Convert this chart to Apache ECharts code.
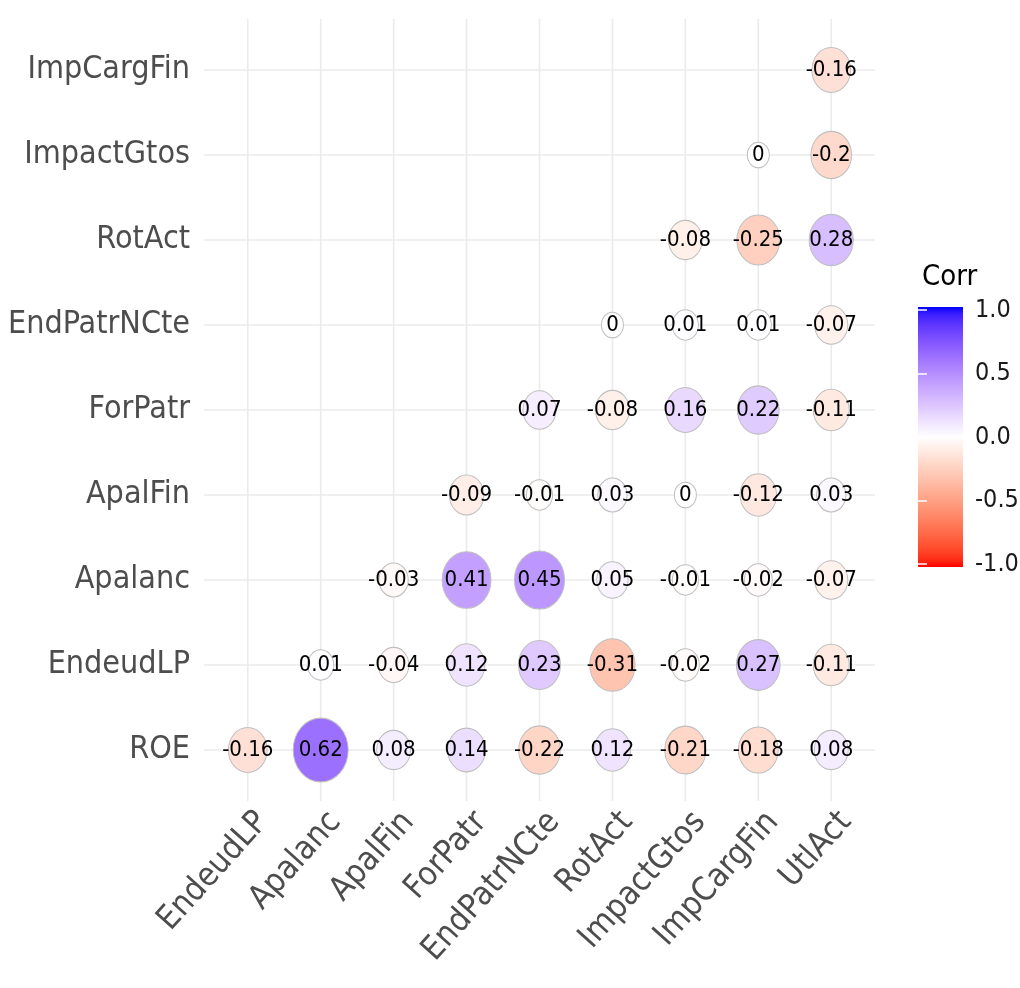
<!DOCTYPE html>
<html>
<head>
<meta charset="utf-8">
<title>Corr</title>
<script src="https://cdn.jsdelivr.net/npm/echarts@6/dist/echarts.min.js"></script>
<style>
  html, body { margin: 0; padding: 0; background: #ffffff; }
  #chart { width: 1020px; height: 988px; }
</style>
</head>
<body>
<div id="chart"></div>
<script>
// Variables on each axis
const xVars = ['EndeudLP', 'Apalanc', 'ApalFin', 'ForPatr', 'EndPatrNCte', 'RotAct', 'ImpactGtos', 'ImpCargFin', 'UtlAct'];
const yVars = ['ROE', 'EndeudLP', 'Apalanc', 'ApalFin', 'ForPatr', 'EndPatrNCte', 'RotAct', 'ImpactGtos', 'ImpCargFin'];

// Lower-triangle correlations, one row per y variable (bottom to top); null = not shown
const corrROE         = [-0.16, 0.62, 0.08, 0.14, -0.22, 0.12, -0.21, -0.18, 0.08];
const corrEndeudLP    = [null, 0.01, -0.04, 0.12, 0.23, -0.31, -0.02, 0.27, -0.11];
const corrApalanc     = [null, null, -0.03, 0.41, 0.45, 0.05, -0.01, -0.02, -0.07];
const corrApalFin     = [null, null, null, -0.09, -0.01, 0.03, 0, -0.12, 0.03];
const corrForPatr     = [null, null, null, null, 0.07, -0.08, 0.16, 0.22, -0.11];
const corrEndPatrNCte = [null, null, null, null, null, 0, 0.01, 0.01, -0.07];
const corrRotAct      = [null, null, null, null, null, null, -0.08, -0.25, 0.28];
const corrImpactGtos  = [null, null, null, null, null, null, null, 0, -0.2];
const corrImpCargFin  = [null, null, null, null, null, null, null, null, -0.16];

// Colour bar ticks
const legendTicks = [-1, -0.5, 0, 0.5, 1];

const corrRows = [corrROE, corrEndeudLP, corrApalanc, corrApalFin, corrForPatr,
                  corrEndPatrNCte, corrRotAct, corrImpactGtos, corrImpCargFin];

const points = [];
corrRows.forEach((row, yi) => {
  row.forEach((v, xi) => { if (v !== null) points.push([xi, yi, v]); });
});
const maxAbs = Math.max(...points.map(p => Math.abs(p[2])));

// ---- gradient in CIE Lab space: red (-1) -> white (0) -> blue (+1)
function toLin(c) { c /= 255; return c <= 0.04045 ? c / 12.92 : Math.pow((c + 0.055) / 1.055, 2.4); }
function fromLin(c) { const v = c <= 0.0031308 ? 12.92 * c : 1.055 * Math.pow(c, 1 / 2.4) - 0.055; return Math.round(Math.min(1, Math.max(0, v)) * 255); }
const WX = 0.95047, WY = 1.0, WZ = 1.08883;
function rgbToLab(rgb) {
  const R = toLin(rgb[0]), G = toLin(rgb[1]), B = toLin(rgb[2]);
  const X = (0.4124 * R + 0.3576 * G + 0.1805 * B) / WX;
  const Y = (0.2126 * R + 0.7152 * G + 0.0722 * B) / WY;
  const Z = (0.0193 * R + 0.1192 * G + 0.9505 * B) / WZ;
  const f = t => t > 0.008856 ? Math.cbrt(t) : 7.787 * t + 16 / 116;
  const fx = f(X), fy = f(Y), fz = f(Z);
  return [116 * fy - 16, 500 * (fx - fy), 200 * (fy - fz)];
}
function labToRgb(lab) {
  const fy = (lab[0] + 16) / 116, fx = fy + lab[1] / 500, fz = fy - lab[2] / 200;
  const inv = t => t * t * t > 0.008856 ? t * t * t : (t - 16 / 116) / 7.787;
  const X = inv(fx) * WX, Y = inv(fy) * WY, Z = inv(fz) * WZ;
  const R = 3.2406 * X - 1.5372 * Y - 0.4986 * Z;
  const G = -0.9689 * X + 1.8758 * Y + 0.0415 * Z;
  const B = 0.0557 * X - 0.2040 * Y + 1.0570 * Z;
  return 'rgb(' + fromLin(R) + ',' + fromLin(G) + ',' + fromLin(B) + ')';
}
const labLow = rgbToLab([255, 0, 0]), labMid = rgbToLab([255, 255, 255]), labHigh = rgbToLab([0, 0, 255]);
function corrColor(v) {
  const end = v >= 0 ? labHigh : labLow, t = Math.min(1, Math.abs(v));
  return labToRgb([0, 1, 2].map(k => labMid[k] + (end[k] - labMid[k]) * t));
}

const FONT = "'DejaVu Sans Condensed', 'Liberation Sans Narrow', 'Arial Narrow', 'Liberation Sans', sans-serif";
const UNIT = 5.5;      // px per size unit
const ASPECT = 1.16;   // marks are slightly taller than wide

const chart = echarts.init(document.getElementById('chart'), null, { renderer: 'canvas' });

const gridLineData = [];
for (let i = 0; i < 9; i++) { gridLineData.push([0, i]); gridLineData.push([1, i]); }

const barStops = [];
for (let k = 0; k <= 40; k++) {
  const v = 1 - k / 20;
  barStops.push({ offset: k / 40, color: corrColor(v) });
}

chart.setOption({
  animation: false,
  backgroundColor: '#ffffff',
  title: {
    text: 'Corr', left: 917, top: 258,
    textStyle: { fontFamily: FONT, fontSize: 29, fontWeight: 'normal', color: '#000000' }
  },
  grid: [
    { left: 204, width: 671, top: 19, height: 782, outerBoundsMode: 'none', containLabel: false },
    { left: 918, width: 45, top: 310, height: 254, outerBoundsMode: 'none', containLabel: false }
  ],
  xAxis: [
    {
      type: 'value', gridIndex: 0, min: -0.6, max: 8.6,
      axisLine: { show: false }, axisTick: { show: false }, splitLine: { show: false },
      axisLabel: {
        customValues: xVars.map((_, i) => i),
        formatter: v => xVars[Math.round(v)],
        rotate: 48, margin: 32, padding: [0, -22, 0, 0],
        fontFamily: FONT, fontSize: 33, color: '#4D4D4D'
      }
    },
    { type: 'value', gridIndex: 1, min: 0, max: 1, show: false }
  ],
  yAxis: [
    {
      type: 'value', gridIndex: 0, min: -0.6, max: 8.6,
      axisLine: { show: false }, axisTick: { show: false }, splitLine: { show: false },
      axisLabel: {
        customValues: yVars.map((_, i) => i),
        formatter: v => yVars[Math.round(v)],
        margin: 14, fontFamily: FONT, fontSize: 32, color: '#4D4D4D'
      }
    },
    {
      type: 'value', gridIndex: 1, min: -1, max: 1, interval: 0.5, position: 'right', z: 5,
      axisLine: { show: false }, splitLine: { show: false },
      axisTick: { show: true, inside: true, length: 9, customValues: legendTicks, lineStyle: { color: '#ffffff', width: 1.5 } },
      axisLabel: {
        customValues: legendTicks, formatter: v => v.toFixed(1),
        margin: 12, fontFamily: FONT, fontSize: 25, color: '#1A1A1A'
      }
    },
    {
      type: 'value', gridIndex: 1, min: -1, max: 1, interval: 0.5, position: 'left', z: 5,
      axisLine: { show: false }, splitLine: { show: false }, axisLabel: { show: false },
      axisTick: { show: true, inside: true, length: 9, customValues: legendTicks, lineStyle: { color: '#ffffff', width: 1.5 } }
    }
  ],
  series: [
    {
      // panel grid lines
      type: 'custom', xAxisIndex: 0, yAxisIndex: 0, silent: true, z: 1,
      data: gridLineData,
      renderItem: (params, api) => {
        const dir = api.value(0), i = api.value(1);
        const a = dir === 0 ? api.coord([i, -0.6]) : api.coord([-0.6, i]);
        const b = dir === 0 ? api.coord([i, 8.6]) : api.coord([8.6, i]);
        return { type: 'line', shape: { x1: a[0], y1: a[1], x2: b[0], y2: b[1] },
                 style: { stroke: '#EBEBEB', lineWidth: 1.6 } };
      }
    },
    {
      type: 'scatter', xAxisIndex: 0, yAxisIndex: 0, silent: true, z: 3,
      data: points,
      symbol: 'circle',
      symbolSize: d => { const w = UNIT * (4 + 6 * Math.sqrt(Math.abs(d[2]) / maxAbs)); return [w, w * ASPECT]; },
      itemStyle: { color: p => corrColor(p.value[2]), borderColor: '#BEBEBE', borderWidth: 1, opacity: 1 },
      label: {
        show: true, position: 'inside', formatter: p => String(p.value[2]),
        fontFamily: FONT, fontSize: 22, color: '#000000'
      }
    },
    {
      // colour bar
      type: 'custom', xAxisIndex: 1, yAxisIndex: 1, silent: true, z: 2,
      data: [[0]],
      renderItem: (params, api) => {
        const tl = api.coord([0, 1]), br = api.coord([1, -1]);
        return { type: 'rect', shape: { x: tl[0], y: tl[1] - 3, width: br[0] - tl[0], height: br[1] - tl[1] + 6 },
                 style: { fill: new echarts.graphic.LinearGradient(0, 0, 0, 1, barStops) } };
      }
    }
  ]
});
</script>
</body>
</html>
